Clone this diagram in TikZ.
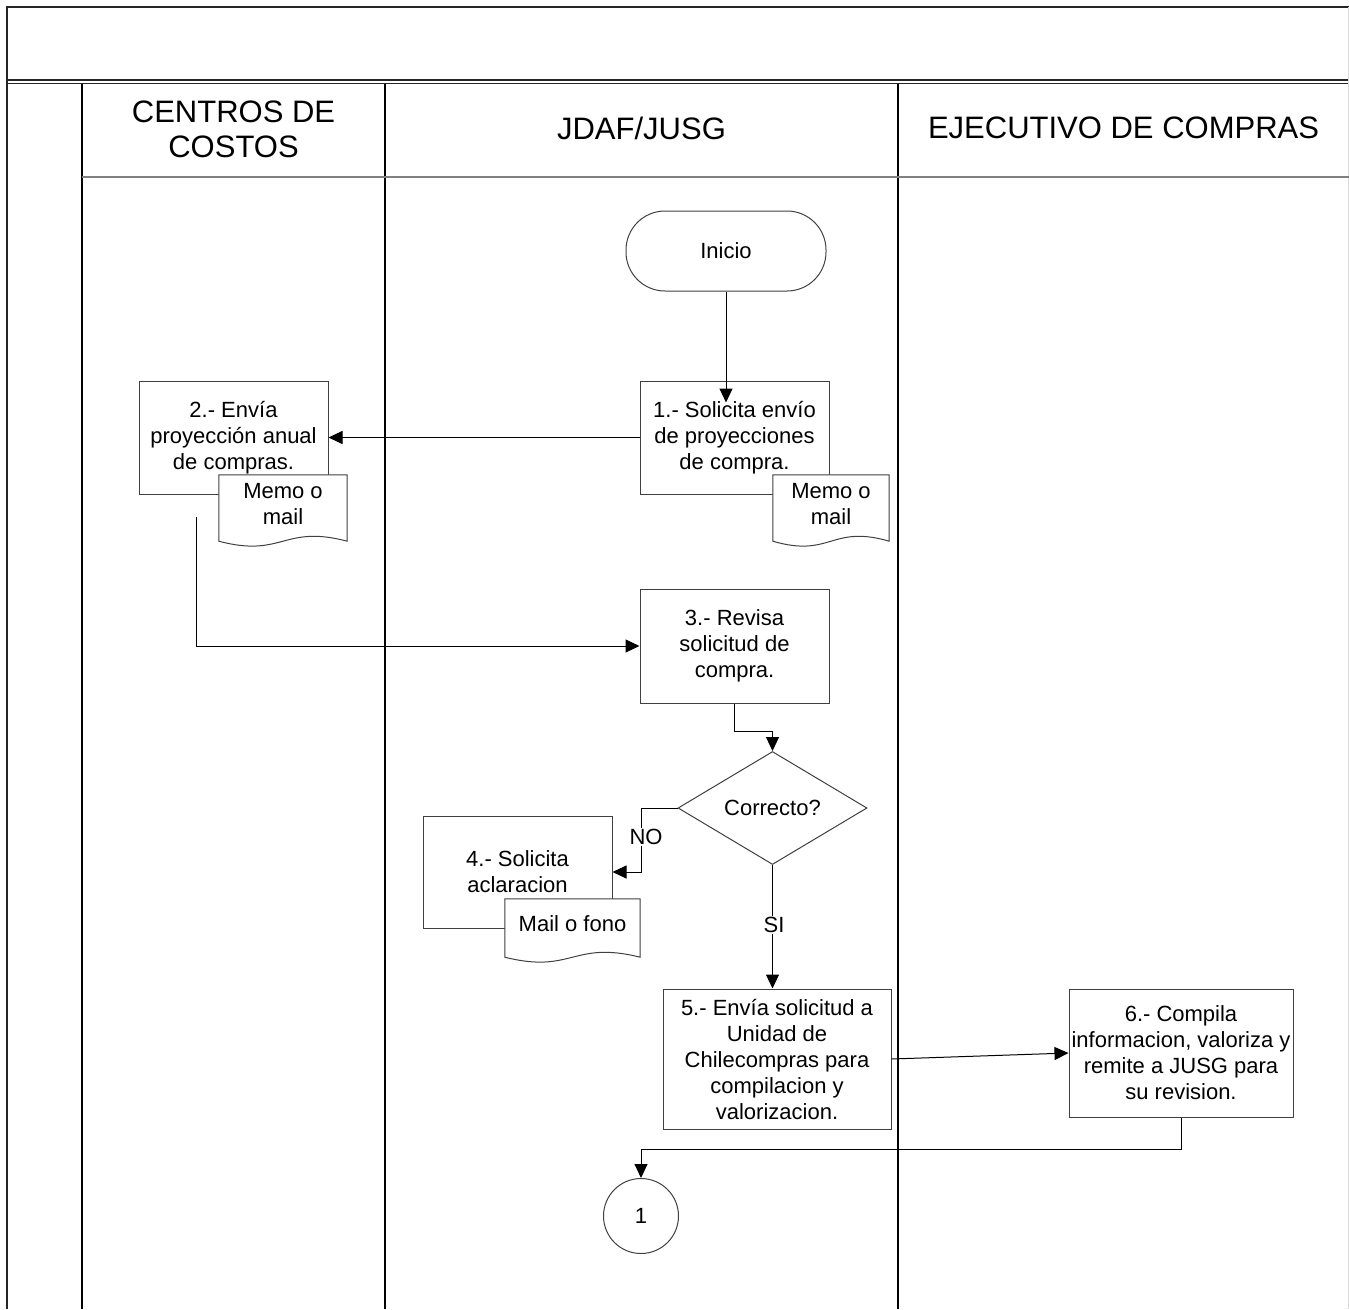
\documentclass[tikz,border=0pt]{standalone}
\usepackage{fontspec}
\setmainfont{Liberation Sans}
\usetikzlibrary{arrows.meta,shapes.geometric,calc}
\pgfdeclarelayer{bg}
\pgfdeclarelayer{mid}
\pgfsetlayers{bg,mid,main}
\newcommand{\bodyfs}{\fontsize{22}{26}\selectfont}
\newcommand{\headfs}{\fontsize{31}{35}\selectfont}
\tikzset{
  frame/.style={line width=1.4pt, black!85},
  lane/.style={line width=1.6pt, black},
  hdrline/.style={line width=2pt, black!50},
  proc/.style={draw=black!75, line width=1pt, fill=white, rectangle, align=center, font=\bodyfs, inner sep=0pt},
  term/.style={proc, rounded corners=39pt},
  decis/.style={draw=black!75, line width=1pt, fill=white, diamond, aspect=1.67, align=center, font=\bodyfs, inner sep=0pt},
  conncircle/.style={draw=black!75, line width=1pt, fill=white, circle, font=\bodyfs, inner sep=0pt, minimum size=75pt},
  docbox/.style={align=center, font=\bodyfs, inner sep=0pt},
  docline/.style={draw=black!75, line width=1pt, fill=white},
  conn/.style={line width=1pt, black, -{Triangle[length=14pt,width=13pt]}},
  lbl/.style={fill=white, font=\bodyfs, inner sep=1.5pt},
  head/.style={align=center, font=\headfs, inner sep=0pt},
}
\newcommand{\docdraw}[1]{%
  \draw[docline] (#1.north west) -- (#1.north east) -- ($(#1.south east)+(0,8)$)
    .. controls ($(#1.south)+(0,-9)$) and ($(#1.south)+(0,25)$) ..
    ($(#1.south west)+(0,8)$) -- cycle;}
\begin{document}
\begin{tikzpicture}[x=1pt,y=-1pt]
\useasboundingbox (0,0) rectangle (1349,1309);
\begin{pgfonlayer}{bg}
  % frame and lanes
  \draw[frame] (7,1309) -- (7,7) -- (1349,7);
  \draw[frame] (7,80) -- (1349,80);
  \draw[frame] (7,83.5) -- (1349,83.5);
  \draw[black!15, line width=1pt] (1348.5,7) -- (1348.5,1309);
  \draw[lane] (82,83.5) -- (82,1309);
  \draw[lane] (385,83.5) -- (385,1309);
  \draw[lane] (898,83.5) -- (898,1309);
  \draw[hdrline] (82,177) -- (1349,177);
  \node[head] (h1) at (233.5,129.5) {CENTROS DE\\COSTOS};
  \node[head] (h2) at (641.5,128) {JDAF/JUSG};
  \node[head] (h3) at (1123.5,128) {EJECUTIVO DE COMPRAS};
  % process shapes
  \node[term, minimum width=200pt, minimum height=80pt] (ini) at (726,251) {Inicio};
  \node[proc, minimum width=189pt, minimum height=113pt] (b1) at (734.5,437.5) {1.- Solicita envío\\de proyecciones\\de compra.};
  \node[proc, minimum width=189pt, minimum height=113pt] (b2) at (233.5,437.5) {2.- Envía\\proyección anual\\de compras.};
  \node[proc, minimum width=189pt, minimum height=114pt] (b3) at (734.5,646) {3.- Revisa\\solicitud de\\compra.};
  \node[decis, minimum width=189pt, minimum height=113pt] (dec) at (772.5,808) {Correcto?};
  \node[proc, minimum width=189pt, minimum height=112pt] (b4) at (517.5,872) {4.- Solicita\\aclaracion};
  \node[proc, minimum width=228pt, minimum height=140pt] (b5) at (777,1059) {5.- Envía solicitud a\\Unidad de\\Chilecompras para\\compilacion y\\valorizacion.};
  \node[proc, minimum width=224pt, minimum height=128pt] (b6) at (1181,1053) {6.- Compila\\informacion, valoriza y\\remite a JUSG para\\su revision.};
  \node[conncircle] (c1) at (641,1216) {1};
\end{pgfonlayer}
% documents
\node[docbox, minimum width=116pt, minimum height=58pt] (m1) at (831,504) {Memo o\\mail};
\node[docbox, minimum width=128pt, minimum height=58pt] (m2) at (283,504) {Memo o\\mail};
\node[docbox, minimum width=135pt, minimum height=50pt] (m3) at (572.5,924) {Mail o fono};
\begin{pgfonlayer}{mid}
  \docdraw{m1}
  \docdraw{m2}
  \docdraw{m3}
\end{pgfonlayer}
% connectors
\coordinate (b1in) at ($(b1.north)+(0,22)$);
\draw[conn] (ini.south) -- (ini.south |- b1in);
\draw[conn] (b1.west) -- (b2.east);
\coordinate (c2) at (196,517);
\draw[conn] (c2) |- (b3.west);
\draw[conn] (b3.south) -- ++(0,28) -| (dec.north);
\draw[conn] (dec.west) -- ++(-36.5,0) |- (b4.east);
\node[lbl] (no) at (646,837) {NO};
\draw[conn] (dec.south) -- (dec.south |- b5.north);
\node[lbl] (si) at (774,925) {SI};
\draw[conn] (b5.east) -- (b6.west);
\draw[conn] (b6.south) -- ++(0,32) -| (c1.north);
\end{tikzpicture}
\end{document}
